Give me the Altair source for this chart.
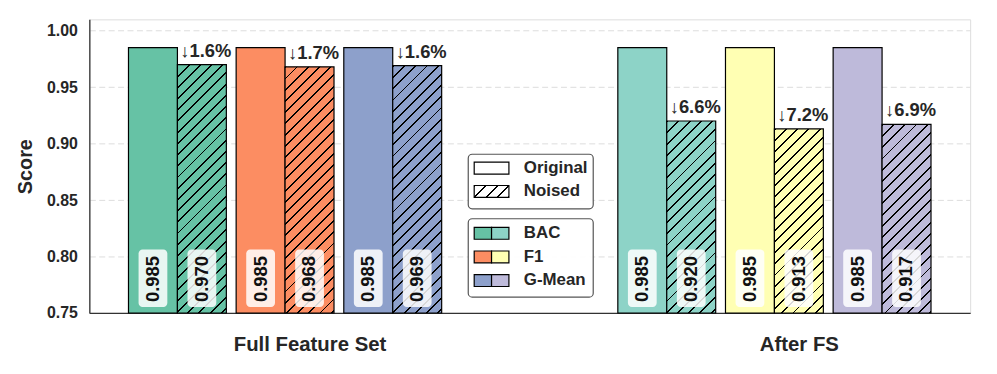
import altair as alt
import pandas as pd

# ---------------- data ----------------
groups = ["Full Feature Set", "After FS"]
metrics = ["BAC", "F1", "G-Mean"]
variants = ["Original", "Noised"]
original_scores = [[0.985, 0.985, 0.985], [0.985, 0.985, 0.985]]
noised_scores = [[0.970, 0.968, 0.969], [0.920, 0.913, 0.917]]
drop_pct = [[1.6, 1.7, 1.6], [6.6, 7.2, 6.9]]
y_ticks = [0.75, 0.80, 0.85, 0.90, 0.95, 1.00]

# ---------------- styles ----------------
colors = [["#66c2a5", "#fc8d62", "#8da0cb"], ["#8dd3c7", "#ffffb3", "#bebada"]]
FONT = "Liberation Sans"
TXT = "#262626"
W, H = 888, 296
X0, X1 = -0.4, 1.4
Y0, Y1 = 0.75, 1.01
BAR_W = 0.1
PAIR_STEP = 0.22
LABEL_SHIFT = 0.05
PX = W / (X1 - X0)  # pixels per x unit

rows = []
for gi, g in enumerate(groups):
    for mi, m in enumerate(metrics):
        for vi, v in enumerate(variants):
            val = original_scores[gi][mi] if vi == 0 else noised_scores[gi][mi]
            rows.append(dict(group=g, gi=gi, metric=m, mi=mi, variant=v, vi=vi,
                             value=val, color=colors[gi][mi],
                             label=f"{val:.3f}",
                             drop=f"\u2193{drop_pct[gi][mi]:.1f}%"))
df = pd.DataFrame(rows)


def hatch_fill(base, w, h, period=11.3, line=1.9, ink="#000000"):
    L = w + h
    k = L / (w * w + h * h)
    stops = []
    i = 0
    while i * period < L:
        a = i * period / L
        b = min((i * period + line) / L, 1.0)
        c = min((i + 1) * period / L, 1.0)
        stops += [(a, ink), (b, ink), (b, base), (c, base)]
        i += 1
    return {"gradient": "linear", "x1": 0, "y1": 0, "x2": k * w, "y2": k * h,
            "stops": [{"offset": round(o, 5), "color": col} for o, col in stops]}


xscale = alt.Scale(domain=[X0, X1], nice=False, zero=False)
yscale = alt.Scale(domain=[Y0, Y1], nice=False, zero=False)
label_expr = ("[" + ",".join(f"'{g}'" for g in groups) +
              f"][round(datum.value - {LABEL_SHIFT})]")
xaxis = alt.Axis(values=[i + LABEL_SHIFT for i in range(len(groups))],
                 labelExpr=label_expr, grid=False, ticks=False, tickSize=0,
                 labelPadding=38, labelBaseline="alphabetic", labelFontSize=20.5,
                 labelFontWeight="bold", labelColor=TXT, title=None, labelOverlap=False,
                 labelFlush=False, domainColor="#333333", domainWidth=1.3)
yaxis = alt.Axis(values=y_ticks, format=".2f", grid=True, gridDash=[6, 3.5],
                 gridColor="#dddddd", gridWidth=1, ticks=False, tickSize=0,
                 labelPadding=12, labelFontSize=16, labelFontWeight="bold",
                 labelColor=TXT, title="Score", titleFontSize=20,
                 titleFontWeight="bold", titleColor=TXT, titleX=-64, titleY=H / 2,
                 titleAngle=270, titleBaseline="middle", titleAlign="center",
                 domainColor="#333333", domainWidth=1.3, labelFlush=False)


def X(field):
    return alt.X(field, type="quantitative", scale=xscale, axis=xaxis)


def Y(field):
    return alt.Y(field, type="quantitative", scale=yscale, axis=yaxis)


half_box = 14.5 / PX
base = alt.Chart(df).transform_calculate(
    xc=f"datum.gi + (datum.mi - 1) * {PAIR_STEP} + (datum.vi - 0.5) * {BAR_W}"
).transform_calculate(
    x0=f"datum.xc - {BAR_W / 2}", x1=f"datum.xc + {BAR_W / 2}",
    b0=f"datum.xc - {half_box}", b1=f"datum.xc + {half_box}"
)

layers = []
# original bars
layers.append(base.transform_filter("datum.vi == 0").mark_bar(
    stroke="black", strokeWidth=1.2).encode(
    x=X("x0"), x2="x1", y=Y("value"), y2=alt.value(H),
    fill=alt.Color("color:N", scale=None)))

# noised bars with hatch
for gi in range(len(groups)):
    for mi in range(len(metrics)):
        v = noised_scores[gi][mi]
        h = (v - Y0) / (Y1 - Y0) * H
        grad = hatch_fill(colors[gi][mi], BAR_W * PX, h)
        layers.append(base.transform_filter(
            f"datum.vi == 1 && datum.gi == {gi} && datum.mi == {mi}").mark_bar(
            fill=grad, stroke="black", strokeWidth=1.2).encode(
            x=X("x0"), x2="x1", y=Y("value"), y2=alt.value(H)))

# value label boxes
layers.append(base.mark_rect(cornerRadius=4, fill="white", fillOpacity=0.85).encode(
    x=X("b0"), x2="b1", y=alt.value(H - 64), y2=alt.value(H - 6)))
layers.append(base.mark_text(angle=270, align="left", baseline="middle", fontSize=18.5,
                             fontWeight="bold", font=FONT, color="#111111").encode(
    x=X("xc"), y=alt.value(H - 11), text="label:N"))

# drop annotations
layers.append(base.transform_filter("datum.vi == 1").mark_text(
    baseline="alphabetic", dy=-8, dx=4, fontSize=18.5, fontWeight="bold", font=FONT,
    color=TXT).encode(x=X("xc"), y=Y("value"), text="drop:N"))

# ---------------- custom legends ----------------
one = pd.DataFrame({"k": [0]})
LX0, LX1 = 382, 508
PX0, PX1, PXM = 388, 423, 405.5
TX = 438
PH = 12


def box(y0, y1):
    return alt.Chart(one).mark_rect(cornerRadius=4, fill="white", fillOpacity=0.92,
                                    stroke="#555555", strokeWidth=1.2).encode(
        x=alt.value(LX0), x2=alt.value(LX1), y=alt.value(y0), y2=alt.value(y1))


def patch(x0, x1, yc, fill):
    return alt.Chart(one).mark_rect(fill=fill, stroke="black", strokeWidth=1.2).encode(
        x=alt.value(x0), x2=alt.value(x1), y=alt.value(yc - PH / 2), y2=alt.value(yc + PH / 2))


def ltext(yc, s):
    return alt.Chart(one).mark_text(align="left", baseline="middle", fontSize=17,
                                    fontWeight="bold", font=FONT, color=TXT).encode(
        x=alt.value(TX), y=alt.value(yc), text=alt.value(s))


layers.append(box(136, 191))
var_y = [150, 173.5]
layers.append(patch(PX0, PX1, var_y[0], "white"))
layers.append(patch(PX0, PX1, var_y[1], hatch_fill("white", PX1 - PX0, PH)))
for yc, s in zip(var_y, variants):
    layers.append(ltext(yc, s))

layers.append(box(201, 280))
met_y = [215.7, 239.5, 263.3]
for mi, (yc, s) in enumerate(zip(met_y, metrics)):
    layers.append(patch(PX0, PXM, yc, colors[0][mi]))
    layers.append(patch(PXM, PX1, yc, colors[1][mi]))
    layers.append(ltext(yc, s))

chart = alt.layer(*layers).properties(
    width=W, height=H,
    autosize=alt.AutoSizeParams(type="none"),
    padding={"left": 82, "top": 10, "right": 19, "bottom": 52},
).configure_view(stroke=None).configure(font=FONT)

chart.save("out.html", embed_options={"renderer": "svg", "actions": False})
